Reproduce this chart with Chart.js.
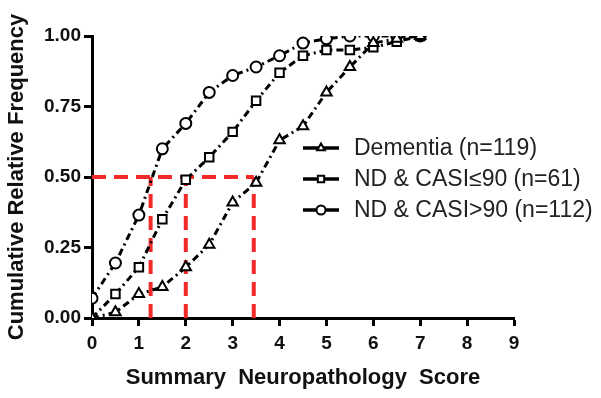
<!DOCTYPE html>
<html>
<head>
<meta charset="utf-8">
<script src="https://cdn.jsdelivr.net/npm/chart.js@4"></script>
<style>
  html, body { margin: 0; padding: 0; background: #fff; }
  #chart { display: block; }
</style>
</head>
<body>
<canvas id="chart" width="601" height="398"></canvas>
<script>
const scores = [0, 0.5, 1, 1.5, 2, 2.5, 3, 3.5, 4, 4.5, 5, 5.5, 6, 6.5, 7];
const dementia = [0, 0.02, 0.085, 0.11, 0.18, 0.26, 0.41, 0.48, 0.63, 0.68, 0.80, 0.89, 0.975, 0.99, 1.0];
const casiLow = [0, 0.085, 0.18, 0.35, 0.49, 0.57, 0.66, 0.77, 0.87, 0.93, 0.95, 0.95, 0.96, 0.98, 1.0];
const casiHigh = [0.07, 0.195, 0.365, 0.60, 0.69, 0.80, 0.86, 0.89, 0.93, 0.975, 0.99, 1.0, 1.0, 1.0, 1.0];
const seriesLabels = ["Dementia (n=119)", "ND & CASI\u226490 (n=61)", "ND & CASI>90 (n=112)"];
const medianLevel = 0.5;
const medianScores = [1.25, 2, 3.45];
const xTicks = [0, 1, 2, 3, 4, 5, 6, 7, 8, 9];
const yTicks = [0, 0.25, 0.5, 0.75, 1.0];

const red = "#f22a2a";
const pts = ys => scores.map((x, i) => ({ x: x, y: ys[i] }));

function series(label, ys, style) {
  return {
    label: label,
    data: pts(ys),
    borderColor: "#000",
    backgroundColor: "#fff",
    borderWidth: 3,
    borderDash: [7, 4, 2, 4],
    pointStyle: style,
    pointRadius: style === "circle" ? 5.5 : 6,
    pointBorderWidth: 2,
    pointBorderColor: "#000",
    pointBackgroundColor: "#fff",
    fill: false,
    order: 1
  };
}

const datasets = [
  series(seriesLabels[0], dementia, "triangle"),
  series(seriesLabels[1], casiLow, "rect"),
  series(seriesLabels[2], casiHigh, "circle")
];

// red median guide lines
const redLine = data => ({
  label: "", data: data, borderColor: red, borderWidth: 4, borderDash: [14, 8],
  pointRadius: 0, fill: false, order: 10, isGuide: true
});
datasets.push(redLine([{ x: 0, y: medianLevel }, { x: medianScores[2], y: medianLevel }]));
medianScores.forEach(s => datasets.push(redLine([{ x: s, y: 0 }, { x: s, y: medianLevel }])));

const legendPlugin = {
  id: "sideLegend",
  afterDraw(chart) {
    const ctx = chart.ctx;
    const x0 = 303, x1 = 339, tx = 354;
    let y = 148;
    ctx.save();
    ctx.font = "23px 'Liberation Sans', Arial, sans-serif";
    ctx.textBaseline = "middle";
    chart.data.datasets.forEach(ds => {
      if (ds.isGuide) return;
      ctx.strokeStyle = "#000";
      ctx.lineWidth = 3.5;
      ctx.setLineDash([]);
      ctx.beginPath();
      ctx.moveTo(x0, y);
      ctx.lineTo(x1, y);
      ctx.stroke();
      ctx.lineWidth = 2;
      ctx.fillStyle = "#fff";
      Chart.helpers.drawPoint(ctx, { pointStyle: ds.pointStyle, radius: 4.5, borderWidth: 2, rotation: 0 }, (x0 + x1) / 2, y);
      ctx.fillStyle = "#222";
      ctx.fillText(ds.label, tx, y + 1);
      y += 31;
    });
    ctx.restore();
  }
};

new Chart(document.getElementById("chart").getContext("2d"), {
  type: "line",
  data: { datasets: datasets },
  plugins: [legendPlugin],
  options: {
    responsive: false,
    animation: false,
    layout: { padding: { left: 0, right: 87, top: 36, bottom: 0 } },
    plugins: { legend: { display: false }, tooltip: { enabled: false } },
    scales: {
      x: {
        type: "linear",
        min: 0,
        max: 9,
        afterBuildTicks: s => { s.ticks = xTicks.map(v => ({ value: v })); },
        afterFit: s => { s.height = 80; },
        border: { color: "#000", width: 3 },
        grid: { drawOnChartArea: false, drawTicks: true, tickLength: 8, tickWidth: 3, tickColor: "#000" },
        ticks: { color: "#111", padding: 6, font: { family: "'Liberation Sans', Arial", size: 19, weight: "bold" } },
        title: {
          display: true,
          text: "Summary  Neuropathology  Score",
          color: "#111",
          padding: { top: 0, bottom: 7 },
          font: { family: "'Liberation Sans', Arial", size: 22, weight: "bold" }
        }
      },
      y: {
        min: 0,
        max: 1,
        afterBuildTicks: s => { s.ticks = yTicks.map(v => ({ value: v })); },
        afterFit: s => { s.width = 92; },
        border: { color: "#000", width: 3 },
        grid: { drawOnChartArea: false, drawTicks: true, tickLength: 8, tickWidth: 3, tickColor: "#000" },
        ticks: {
          color: "#111",
          padding: 3,
          font: { family: "'Liberation Sans', Arial", size: 19, weight: "bold" },
          callback: v => v.toFixed(2)
        },
        title: {
          display: true,
          text: "Cumulative Relative Frequency",
          color: "#111",
          padding: { bottom: 0 },
          font: { family: "'Liberation Sans', Arial", size: 22, weight: "bold" }
        }
      }
    }
  }
});
</script>
</body>
</html>
